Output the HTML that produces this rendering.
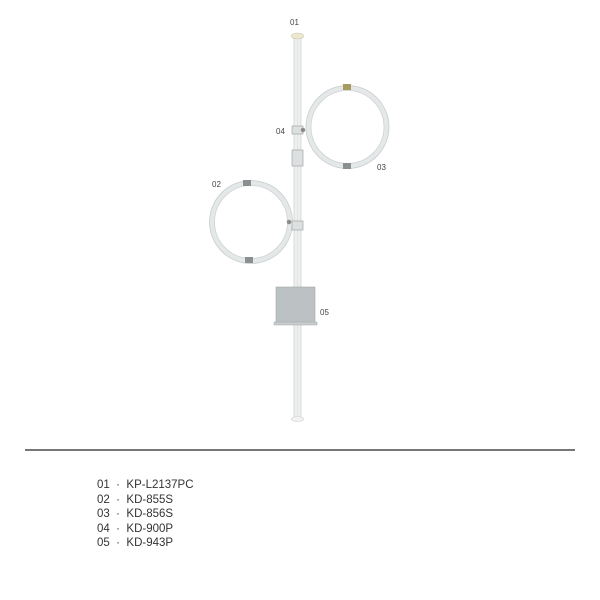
<!DOCTYPE html>
<html><head><meta charset="utf-8"><style>
html,body{margin:0;padding:0;background:#fff;width:600px;height:600px;overflow:hidden}
body{position:relative;font-family:"Liberation Sans",sans-serif;color:#333}
.lbl{position:absolute;font-size:8px;color:#444}
.item{position:absolute;left:97px;font-size:11.5px;color:#333;white-space:pre}
</style></head><body>
<svg width="600" height="440" style="position:absolute;left:0;top:0">
 <g>
  <rect x="294" y="38" width="7" height="380" fill="#eef0f0" stroke="#cfd3d3" stroke-width="0.8"/>
  <line x1="297.5" y1="40" x2="297.5" y2="416" stroke="#dfe3e3" stroke-width="1"/>
 </g>
 <ellipse cx="297.5" cy="36" rx="6" ry="3" fill="#ece8cf" stroke="#c8c4a8" stroke-width="0.6"/>
 <ellipse cx="297.5" cy="419" rx="6" ry="2.5" fill="#f2f2f2" stroke="#ccc" stroke-width="0.6"/>
 <g>
  <circle cx="347.5" cy="127" r="39" fill="none" stroke="#e4e8e8" stroke-width="5"/>
  <circle cx="347.5" cy="127" r="41.5" fill="none" stroke="#c9cdcd" stroke-width="0.8"/>
  <circle cx="347.5" cy="127" r="36.5" fill="none" stroke="#cfd3d3" stroke-width="0.8"/>
  <rect x="343" y="84" width="8" height="6" fill="#a69a60"/>
  <rect x="343" y="163" width="8" height="6" fill="#8a8f90"/>
 </g>
 <g>
  <circle cx="251" cy="222" r="39" fill="none" stroke="#e4e8e8" stroke-width="5"/>
  <circle cx="251" cy="222" r="41.5" fill="none" stroke="#c9cdcd" stroke-width="0.8"/>
  <circle cx="251" cy="222" r="36.5" fill="none" stroke="#cfd3d3" stroke-width="0.8"/>
  <rect x="243" y="180" width="8" height="6" fill="#8a8f90"/>
  <rect x="245" y="257" width="8" height="6" fill="#8a8f90"/>
 </g>
 <g fill="#dde0e0" stroke="#999" stroke-width="0.6">
  <rect x="292" y="126" width="11" height="8"/>
  <rect x="292" y="150" width="11" height="16"/>
  <rect x="292" y="221" width="11" height="9"/>
  <circle cx="303" cy="130" r="2" fill="#888"/>
  <circle cx="289" cy="222" r="2" fill="#888"/>
 </g>
 <g>
  <rect x="276" y="287" width="39" height="36" fill="#bcc1c3" stroke="#a3a8aa" stroke-width="0.6"/>
  <rect x="274" y="322" width="43" height="3" fill="#c8cccd" stroke="#a3a8aa" stroke-width="0.5"/>
 </g>
</svg>
<div class="lbl" style="left:290px;top:18px">01</div>
<div class="lbl" style="left:276px;top:127px">04</div>
<div class="lbl" style="left:377px;top:163px">03</div>
<div class="lbl" style="left:212px;top:180px">02</div>
<div class="lbl" style="left:320px;top:308px">05</div>
<div style="position:absolute;left:25px;top:449px;width:550px;height:2px;background:#777"></div>
<div class="item" style="top:479px">01  ·  KP-L2137PC</div>
<div class="item" style="top:493.5px">02  ·  KD-855S</div>
<div class="item" style="top:508px">03  ·  KD-856S</div>
<div class="item" style="top:522.5px">04  ·  KD-900P</div>
<div class="item" style="top:537px">05  ·  KD-943P</div>
</body></html>
